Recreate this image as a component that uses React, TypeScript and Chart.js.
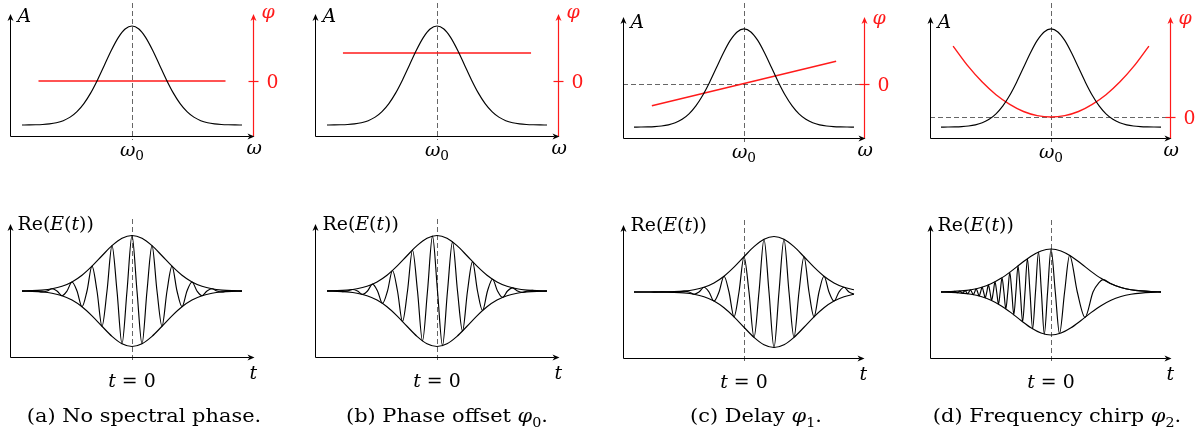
import React, { useEffect, useRef } from 'react';
import { Chart, registerables } from 'chart.js';

Chart.register(...registerables);

// ======================= DATA =======================
// Spectral amplitude A(ω) (ω in units of spectral width, centred on ω0)
const omegaGrid = [-4, -3.75, -3.5, -3.25, -3, -2.75, -2.5, -2.25, -2, -1.75, -1.5, -1.25, -1, -0.75, -0.5, -0.25, 0,
  0.25, 0.5, 0.75, 1, 1.25, 1.5, 1.75, 2, 2.25, 2.5, 2.75, 3, 3.25, 3.5, 3.75, 4];
const spectralAmp = [0.0003, 0.0009, 0.0022, 0.0051, 0.0111, 0.0228, 0.0439, 0.0796, 0.1353, 0.2163, 0.3247, 0.4578,
  0.6065, 0.7548, 0.8825, 0.969, 1, 0.969, 0.8825, 0.7548, 0.6065, 0.4578, 0.3247, 0.2163, 0.1353, 0.0796, 0.0439,
  0.0228, 0.0111, 0.0051, 0.0022, 0.0009, 0.0003];

// Spectral phase φ(ω)
const phaseOmegaA = [-3.4, 3.4];
const phaseValuesA = [0, 0];
const phaseOmegaB = [-3.42, 3.42];
const phaseValuesB = [1.02, 1.02];
const phaseOmegaC = [-3.35, 3.35];
const phaseValuesC = [-0.81, 0.81];
const phaseOmegaD = [-3.56, -3, -2.5, -2, -1.5, -1, -0.5, 0, 0.5, 1, 1.5, 2, 2.5, 3, 3.56];
const phaseValuesD = [2.58, 1.83, 1.27, 0.81, 0.46, 0.2, 0.05, 0, 0.05, 0.2, 0.46, 0.81, 1.27, 1.83, 2.58];

// Time-domain envelopes |E(t)|
const envelopeTime = [-11, -10, -9, -8, -7, -6, -5, -4, -3, -2, -1, 0, 1, 2, 3, 4, 5, 6, 7, 8, 9, 10, 11];
const envelopeA = [0.002, 0.006, 0.017, 0.04, 0.085, 0.163, 0.284, 0.447, 0.635, 0.817, 0.951, 1, 0.951, 0.817, 0.635,
  0.447, 0.284, 0.163, 0.085, 0.04, 0.017, 0.006, 0.002];
const envelopeB = [0.002, 0.006, 0.017, 0.04, 0.085, 0.163, 0.284, 0.447, 0.635, 0.817, 0.951, 1, 0.951, 0.817, 0.635,
  0.447, 0.284, 0.163, 0.085, 0.04, 0.017, 0.006, 0.002];
const envelopeC = [0, 0, 0.001, 0.002, 0.006, 0.017, 0.04, 0.085, 0.163, 0.284, 0.447, 0.635, 0.817, 0.951, 1, 0.951,
  0.817, 0.635, 0.447, 0.284, 0.163, 0.085, 0.04];
const envelopeD = [0.003, 0.008, 0.019, 0.041, 0.082, 0.148, 0.246, 0.372, 0.513, 0.645, 0.74, 0.775, 0.74, 0.645,
  0.513, 0.372, 0.246, 0.148, 0.082, 0.041, 0.019, 0.008, 0.003];

// Real field Re(E(t)): extrema and zero crossings
const fieldTimeA = [-11, -10.5, -10, -9.5, -9, -8.5, -8, -7.5, -7, -6.5, -6, -5.5, -5, -4.5, -4, -3.5, -3, -2.5, -2, -1.5,
  -1, -0.5, 0, 0.5, 1, 1.5, 2, 2.5, 3, 3.5, 4, 4.5, 5, 5.5, 6, 6.5, 7, 7.5, 8, 8.5, 9, 9.5, 10, 10.5, 11];
const fieldA = [-0.002, 0, 0.006, 0, -0.017, 0, 0.04, 0, -0.085, 0, 0.163, 0, -0.284, 0, 0.447, 0, -0.635, 0, 0.817, 0,
  -0.951, 0, 1, 0, -0.951, 0, 0.817, 0, -0.635, 0, 0.447, 0, -0.284, 0, 0.163, 0, -0.085, 0, 0.04, 0, -0.017, 0, 0.006,
  0, -0.002];
const fieldTimeB = [-11, -10.45, -9.95, -9.45, -8.95, -8.45, -7.95, -7.45, -6.95, -6.45, -5.95, -5.45, -4.95, -4.45,
  -3.95, -3.45, -2.95, -2.45, -1.95, -1.45, -0.95, -0.45, 0.05, 0.55, 1.05, 1.55, 2.05, 2.55, 3.05, 3.55, 4.05, 4.55,
  5.05, 5.55, 6.05, 6.55, 7.05, 7.55, 8.05, 8.55, 9.05, 9.55, 10.05, 10.55, 11];
const fieldB = [0, 0.004, 0, -0.011, 0, 0.027, 0, -0.061, 0, 0.123, 0, -0.224, 0, 0.369, 0, -0.549, 0, 0.739, 0, -0.9,
  0, 0.99, 0, -0.985, 0, 0.886, 0, -0.721, 0, 0.53, 0, -0.352, 0, 0.212, 0, -0.115, 0, 0.057, 0, -0.025, 0, 0.01, 0,
  -0.004, 0];
const fieldTimeC = [-11, -10.5, -10, -9.5, -9, -8.5, -8, -7.5, -7, -6.5, -6, -5.5, -5, -4.5, -4, -3.5, -3, -2.5, -2, -1.5,
  -1, -0.5, 0, 0.5, 1, 1.5, 2, 2.5, 3, 3.5, 4, 4.5, 5, 5.5, 6, 6.5, 7, 7.5, 8, 8.5, 9, 9.5, 10, 10.5, 11];
const fieldC = [0, 0, 0, 0, -0.001, 0, 0.002, 0, -0.006, 0, 0.017, 0, -0.04, 0, 0.085, 0, -0.163, 0, 0.284, 0, -0.447,
  0, 0.635, 0, -0.817, 0, 0.951, 0, -1, 0, 0.951, 0, -0.817, 0, 0.635, 0, -0.447, 0, 0.284, 0, -0.163, 0, 0.085, 0,
  -0.04];
const fieldTimeD = [-11, -10.12, -10.0, -9.87, -9.75, -9.63, -9.5, -9.38, -9.25, -9.12, -8.99, -8.86, -8.73, -8.6,
  -8.47, -8.33, -8.2, -8.06, -7.92, -7.77, -7.63, -7.49, -7.34, -7.19, -7.04, -6.89, -6.74, -6.58, -6.42, -6.26, -6.1,
  -5.94, -5.77, -5.6, -5.43, -5.25, -5.08, -4.9, -4.71, -4.52, -4.32, -4.12, -3.92, -3.72, -3.51, -3.3, -3.07, -2.84,
  -2.6, -2.36, -2.1, -1.84, -1.55, -1.25, -0.96, -0.67, -0.34, 0, 0.43, 0.85, 1.36, 1.86, 2.63, 3.4, 4.2, 4.8, 5.2, 6,
  7, 8, 9, 10, 11];
const fieldD = [0, 0.007, 0, -0.009, 0, 0.011, 0, -0.014, 0, 0.017, 0, -0.021, 0, 0.026, 0, -0.032, 0, 0.039, 0,
  -0.048, 0, 0.059, 0, -0.072, 0, 0.088, 0, -0.106, 0, 0.128, 0, -0.153, 0, 0.184, 0, -0.219, 0, 0.257, 0, -0.303, 0,
  0.356, 0, -0.411, 0, 0.47, 0, -0.535, 0, 0.6, 0, -0.663, 0, 0.721, 0, -0.759, 0, 0.775, 0, -0.75, 0, 0.661, 0,
  -0.456, 0, 0.17, 0.224, 0.148, 0.082, 0.041, 0.019, 0.008, 0.003];

// Ticks and texts
const omegaTicks = [0];
const phaseTicks = [0];
const timeTicks = [0];
type Run = { t: string; it?: boolean; sub?: boolean };
const omegaTickRuns: Run[] = [{ t: 'ω', it: true }, { t: '0', sub: true }];
const phaseTickRuns: Run[] = [{ t: '0' }];
const timeTickRuns: Run[] = [{ t: 't', it: true }, { t: ' = 0' }];
const ampTitle: Run[] = [{ t: 'A', it: true }];
const phaseTitle: Run[] = [{ t: 'φ', it: true }];
const omegaTitle: Run[] = [{ t: 'ω', it: true }];
const timeTitle: Run[] = [{ t: 't', it: true }];
const fieldTitle: Run[] = [{ t: 'Re(' }, { t: 'E', it: true }, { t: '(' }, { t: 't', it: true }, { t: '))' }];
const captionRuns: Run[][] = [
  [{ t: '(a) No spectral phase.' }],
  [{ t: '(b) Phase offset ' }, { t: 'φ', it: true }, { t: '0', sub: true }, { t: '.' }],
  [{ t: '(c) Delay ' }, { t: 'φ', it: true }, { t: '1', sub: true }, { t: '.' }],
  [{ t: '(d) Frequency chirp ' }, { t: 'φ', it: true }, { t: '2', sub: true }, { t: '.' }],
];

// ======================= LAYOUT / STYLE =======================
const W = 1203, H = 436;
const SERIF = '"DejaVu Serif", serif';
const FS = 18;
const FS_SCALE = 1.05;
const CAP_FS = 19;
const CAP_SCALE = 1.1;
const RED = '#ff1a1a';
const DASH = 'rgba(0,0,0,0.6)';
const LW = 1.15;
const LW_RED = 1.4;
const PX_OMEGA = 27.5, PX_PHI = 27.5, PX_T = 10, PX_E = 55.5;

const TOP_PANELS = [
  { L: 10, R: 253, T: 15, B: 136, cx: 132, z: 81, lab: 0, zeroLine: false },
  { L: 315, R: 558, T: 15, B: 136, cx: 437, z: 81, lab: 0, zeroLine: false },
  { L: 623, R: 864, T: 18, B: 138, cx: 744, z: 83.5, lab: 3, zeroLine: true },
  { L: 930, R: 1170, T: 18, B: 138, cx: 1051, z: 117, lab: 3, zeroLine: true },
];
const BOTTOM_PANELS = [
  { L: 10, R: 253, T: 225, B: 357, cx: 132, cy: 291, capX: 144 },
  { L: 315, R: 558, T: 225, B: 357, cx: 437, cy: 291, capX: 447 },
  { L: 623, R: 863, T: 226, B: 358, cx: 744, cy: 292, capX: 756 },
  { L: 930, R: 1170, T: 226, B: 358, cx: 1051, cy: 292, capX: 1057 },
];

const PHASES = [
  { w: phaseOmegaA, v: phaseValuesA },
  { w: phaseOmegaB, v: phaseValuesB },
  { w: phaseOmegaC, v: phaseValuesC },
  { w: phaseOmegaD, v: phaseValuesD },
];
const PULSES = [
  { env: envelopeA, ft: fieldTimeA, f: fieldA },
  { env: envelopeB, ft: fieldTimeB, f: fieldB },
  { env: envelopeC, ft: fieldTimeC, f: fieldC },
  { env: envelopeD, ft: fieldTimeD, f: fieldD },
];

// ======================= HELPERS =======================
function line(ctx: CanvasRenderingContext2D, x1: number, y1: number, x2: number, y2: number) {
  ctx.beginPath();
  ctx.moveTo(x1, y1);
  ctx.lineTo(x2, y2);
  ctx.stroke();
}

function arrow(ctx: CanvasRenderingContext2D, x: number, y: number, dir: 'r' | 'u', color: string) {
  ctx.save();
  ctx.fillStyle = color;
  ctx.beginPath();
  if (dir === 'r') {
    ctx.moveTo(x + 1, y);
    ctx.lineTo(x - 6, y - 3);
    ctx.lineTo(x - 4, y);
    ctx.lineTo(x - 6, y + 3);
  } else {
    ctx.moveTo(x, y - 1);
    ctx.lineTo(x - 3, y + 6);
    ctx.lineTo(x, y + 4);
    ctx.lineTo(x + 3, y + 6);
  }
  ctx.closePath();
  ctx.fill();
  ctx.restore();
}

function drawRuns(ctx: CanvasRenderingContext2D, runs: Run[], x: number, y: number, size: number,
  align: 'left' | 'center', color: string, hs = FS_SCALE) {
  const fonts = runs.map((r) => `${r.it ? 'italic ' : ''}${r.sub ? Math.round(size * 0.7) : size}px ${SERIF}`);
  const widths = runs.map((r, i) => {
    ctx.font = fonts[i];
    return ctx.measureText(r.t).width * hs;
  });
  const total = widths.reduce((a, b) => a + b, 0);
  let cx = align === 'center' ? x - total / 2 : x;
  ctx.fillStyle = color;
  ctx.textAlign = 'left';
  ctx.textBaseline = 'alphabetic';
  runs.forEach((r, i) => {
    ctx.save();
    ctx.font = fonts[i];
    ctx.translate(cx, y + (r.sub ? size * 0.25 : 0));
    ctx.scale(hs, 1);
    ctx.fillText(r.t, 0, 0);
    ctx.restore();
    cx += widths[i];
  });
}

const pts = (xs: number[], ys: number[], sign = 1) => xs.map((x, i) => ({ x, y: sign * ys[i] }));
const ds = (data: any[], color: string, yAxisID = 'y', width = LW) => ({
  data, borderColor: color, borderWidth: width, pointRadius: 0, cubicInterpolationMode: 'monotone' as const,
  fill: false, yAxisID,
});

function baseOptions(p: { L: number; R: number; T: number; B: number }) {
  return {
    animation: false as const,
    responsive: false,
    maintainAspectRatio: false,
    devicePixelRatio: 1,
    events: [] as any[],
    layout: { padding: { left: p.L, right: W - p.R, top: p.T, bottom: H - p.B } },
    plugins: { legend: { display: false }, tooltip: { enabled: false }, title: { display: false } },
    elements: { point: { radius: 0 }, line: { borderWidth: LW } },
  };
}

function makeTop(canvas: HTMLCanvasElement, i: number) {
  const p = TOP_PANELS[i];
  const ph = PHASES[i];
  const deco = {
    id: 'topDeco' + i,
    beforeDatasetsDraw(chart: any) {
      const ctx = chart.ctx as CanvasRenderingContext2D;
      const { left, right, bottom } = chart.chartArea;
      const x0 = Math.round(chart.scales.x.getPixelForValue(omegaTicks[0])) + 0.5;
      const z = Math.round(chart.scales.y2.getPixelForValue(phaseTicks[0])) + 0.5;
      ctx.save();
      ctx.setLineDash([5, 3]);
      ctx.strokeStyle = DASH;
      ctx.lineWidth = 1;
      line(ctx, x0, 3, x0, bottom + 4);
      if (p.zeroLine) line(ctx, left, z, right + 7, z);
      ctx.restore();
    },
    afterDraw(chart: any) {
      const ctx = chart.ctx as CanvasRenderingContext2D;
      const { left, right, top, bottom } = chart.chartArea;
      const L = Math.round(left) + 0.5, R = Math.round(right) + 0.5, B = Math.round(bottom) + 0.5;
      const z = Math.round(chart.scales.y2.getPixelForValue(phaseTicks[0])) + 0.5;
      const x0 = chart.scales.x.getPixelForValue(omegaTicks[0]);
      ctx.save();
      ctx.lineWidth = 1.2;
      ctx.strokeStyle = RED;
      line(ctx, R, B, R, top + 4);
      arrow(ctx, R, top, 'u', RED);
      line(ctx, R - 5, z, R + 5, z);
      ctx.lineWidth = 1;
      ctx.strokeStyle = '#000';
      line(ctx, L, B, R - 4, B);
      arrow(ctx, R, B, 'r', '#000');
      line(ctx, L, B, L, top + 4);
      arrow(ctx, L, top, 'u', '#000');
      drawRuns(ctx, ampTitle, L + 7, top + 7 + p.lab, FS, 'left', '#000');
      drawRuns(ctx, phaseTitle, R + 8, top + 3 + p.lab, FS, 'left', RED);
      drawRuns(ctx, phaseTickRuns, R + 13, z + 6, FS, 'left', RED);
      drawRuns(ctx, omegaTitle, R - 7, B + 17, FS, 'left', '#000');
      drawRuns(ctx, omegaTickRuns, x0, B + 19, FS, 'center', '#000');
      ctx.restore();
    },
  };
  return new Chart(canvas, {
    type: 'line',
    data: {
      datasets: [
        ds(pts(omegaGrid, spectralAmp), '#000', 'y'),
        ds(pts(ph.w, ph.v), RED, 'y2', LW_RED),
      ],
    },
    options: {
      ...baseOptions(p),
      scales: {
        x: { type: 'linear', display: false, min: (p.L - p.cx) / PX_OMEGA, max: (p.R - p.cx) / PX_OMEGA },
        y: { type: 'linear', display: false, min: -0.111, max: 1.111 },
        y2: { type: 'linear', display: false, position: 'right', min: -(p.B - p.z) / PX_PHI, max: (p.z - p.T) / PX_PHI },
      },
    } as any,
    plugins: [deco],
  });
}

function makeBottom(canvas: HTMLCanvasElement, i: number) {
  const p = BOTTOM_PANELS[i];
  const pu = PULSES[i];
  const deco = {
    id: 'botDeco' + i,
    beforeDatasetsDraw(chart: any) {
      const ctx = chart.ctx as CanvasRenderingContext2D;
      const { top, bottom } = chart.chartArea;
      const x0 = Math.round(chart.scales.x.getPixelForValue(timeTicks[0])) + 0.5;
      ctx.save();
      ctx.setLineDash([5, 3]);
      ctx.strokeStyle = DASH;
      ctx.lineWidth = 1;
      line(ctx, x0, top - 6, x0, bottom + 4);
      ctx.restore();
    },
    afterDraw(chart: any) {
      const ctx = chart.ctx as CanvasRenderingContext2D;
      const { left, right, top, bottom } = chart.chartArea;
      const L = Math.round(left) + 0.5, R = Math.round(right) + 0.5, B = Math.round(bottom) + 0.5;
      const x0 = chart.scales.x.getPixelForValue(timeTicks[0]);
      ctx.save();
      ctx.lineWidth = 1;
      ctx.strokeStyle = '#000';
      line(ctx, L, B, R - 4, B);
      arrow(ctx, R, B, 'r', '#000');
      line(ctx, L, B, L, top + 4);
      arrow(ctx, L, top, 'u', '#000');
      drawRuns(ctx, fieldTitle, L + 7, top + 5, FS, 'left', '#000');
      drawRuns(ctx, timeTitle, R - 4, B + 21, FS, 'left', '#000');
      drawRuns(ctx, timeTickRuns, x0, B + 29, FS, 'center', '#000');
      drawRuns(ctx, captionRuns[i], p.capX, 422, CAP_FS, 'center', '#000', CAP_SCALE);
      ctx.restore();
    },
  };
  return new Chart(canvas, {
    type: 'line',
    data: {
      datasets: [
        ds(pts(envelopeTime, pu.env, 1), '#000'),
        ds(pts(envelopeTime, pu.env, -1), '#000'),
        ds(pts(pu.ft, pu.f), '#000'),
      ],
    },
    options: {
      ...baseOptions(p),
      scales: {
        x: { type: 'linear', display: false, min: (p.L - p.cx) / PX_T, max: (p.R - p.cx) / PX_T },
        y: { type: 'linear', display: false, min: -(p.B - p.cy) / PX_E, max: (p.cy - p.T) / PX_E },
      },
    } as any,
    plugins: [deco],
  });
}

export default function App() {
  const refs = useRef<(HTMLCanvasElement | null)[]>([]);
  useEffect(() => {
    const charts: Chart[] = [];
    for (let i = 0; i < 4; i++) {
      const c1 = refs.current[i];
      const c2 = refs.current[i + 4];
      if (c1) charts.push(makeTop(c1, i));
      if (c2) charts.push(makeBottom(c2, i));
    }
    return () => charts.forEach((c) => c.destroy());
  }, []);
  return (
    <div style={{ position: 'absolute', left: 0, top: 0, width: W, height: H, background: '#fff', overflow: 'hidden' }}>
      {Array.from({ length: 8 }).map((_, i) => (
        <canvas
          key={i}
          ref={(el) => { refs.current[i] = el; }}
          width={W}
          height={H}
          style={{ position: 'absolute', left: 0, top: 0, width: W, height: H }}
        />
      ))}
    </div>
  );
}
